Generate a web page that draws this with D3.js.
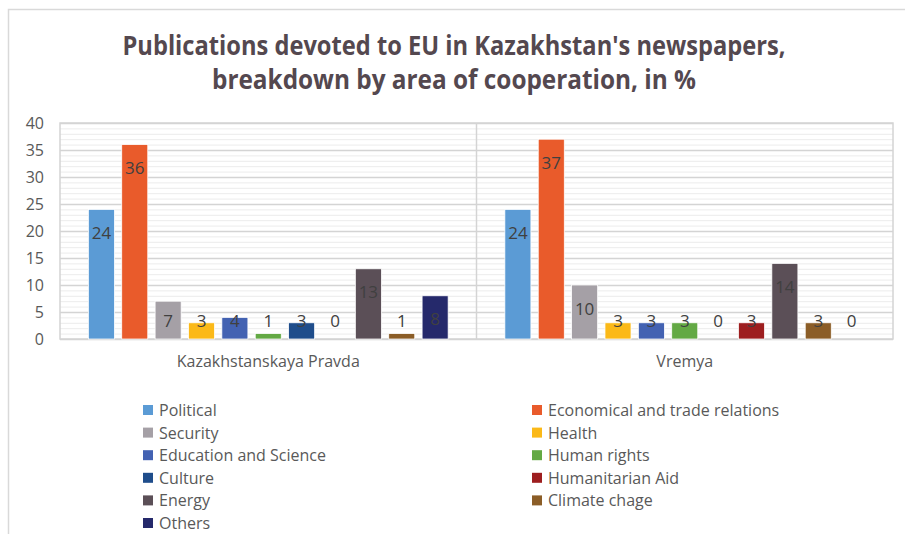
<!DOCTYPE html>
<html>
<head>
<meta charset="utf-8">
<script src="https://cdn.jsdelivr.net/npm/d3@7"></script>
<style>
    body { margin: 0; background: #fff; }
    text { font-family: 'Open Sans', 'Liberation Sans', sans-serif; }
</style>
</head>
<body>
<svg id="chart"></svg>
<script>
const categories = ['Kazakhstanskaya Pravda', 'Vremya'];
const seriesNames = [
    'Political', 'Economical and trade relations', 'Security', 'Health',
    'Education and Science', 'Human rights', 'Culture', 'Humanitarian Aid',
    'Energy', 'Climate chage', 'Others'
];
const pravdaValues = [24, 36, 7, 3, 4, 1, 3, 0, 13, 1, 8];
const vremyaValues = [24, 37, 10, 3, 3, 3, 0, 3, 14, 3, 0];
const seriesColors = [
    '#5b9bd5', '#e95b2b', '#a5a0a6', '#fbb918', '#4362b2', '#63a944',
    '#1f4d8b', '#9d1e1f', '#5b4f57', '#8b5d27', '#25296b'
];
const yTicks = [0, 5, 10, 15, 20, 25, 30, 35, 40];
const titleLines = [
    "Publications devoted to EU in Kazakhstan's newspapers,",
    'breakdown by area of cooperation, in %'
];

const width = 905;
const height = 534;
const plot = { left: 60, right: 893, top: 123, bottom: 339 };

const svg = d3.select('#chart')
    .attr('width', width)
    .attr('height', height);

// outer chart frame (runs off the picture to the right and bottom)
svg.append('rect')
    .attr('x', 8.5)
    .attr('y', 9.5)
    .attr('width', 1000)
    .attr('height', 1000)
    .attr('fill', '#fff')
    .attr('stroke', '#d9d9d9')
    .attr('stroke-width', 1.5);

svg.selectAll('.title')
    .data(titleLines)
    .enter()
    .append('text')
    .attr('class', 'title')
    .attr('x', 454)
    .attr('y', (d, i) => 55 + i * 34)
    .attr('text-anchor', 'middle')
    .attr('textLength', (d, i) => i === 0 ? 663 : 484)
    .attr('lengthAdjust', 'spacingAndGlyphs')
    .attr('fill', '#54484f')
    .style('font-size', '26px')
    .style('font-weight', 'bold')
    .text(d => d);

const yScale = d3.scaleLinear()
    .domain([0, 40])
    .range([plot.bottom, plot.top]);

const x0 = d3.scaleBand()
    .domain(categories)
    .range([plot.left, plot.right]);

const x1 = d3.scaleBand()
    .domain(seriesNames)
    .range([0, x0.bandwidth()])
    .paddingInner(0.22)
    .paddingOuter(0.85);

// minor gridlines
const minorTicks = d3.range(0, 41).filter(v => v % 5 !== 0);
svg.append('g')
    .selectAll('line')
    .data(minorTicks)
    .enter()
    .append('line')
    .attr('x1', plot.left)
    .attr('x2', plot.right)
    .attr('y1', d => yScale(d) + 0.5)
    .attr('y2', d => yScale(d) + 0.5)
    .attr('stroke', '#ececec');

// major gridlines via axis
svg.append('g')
    .attr('class', 'grid')
    .attr('transform', `translate(${plot.left}, 0)`)
    .call(d3.axisRight(yScale)
        .tickValues(yTicks)
        .tickSize(plot.right - plot.left)
        .tickFormat(''))
    .call(g => g.select('.domain').remove())
    .call(g => g.selectAll('line')
        .attr('stroke', '#d4d4d4')
        .attr('stroke-width', 1.5));

// plot area border and category separator
svg.append('rect')
    .attr('x', plot.left)
    .attr('y', plot.top)
    .attr('width', plot.right - plot.left)
    .attr('height', plot.bottom - plot.top)
    .attr('fill', 'none')
    .attr('stroke', '#d4d4d4')
    .attr('stroke-width', 1.5);

svg.append('g')
    .selectAll('line')
    .data(categories.slice(1))
    .enter()
    .append('line')
    .attr('x1', d => x0(d))
    .attr('x2', d => x0(d))
    .attr('y1', plot.top)
    .attr('y2', plot.bottom)
    .attr('stroke', '#d4d4d4')
    .attr('stroke-width', 1.5);

// y axis labels
svg.append('g')
    .attr('transform', `translate(${plot.left}, 0)`)
    .call(d3.axisLeft(yScale).tickValues(yTicks).tickSize(0).tickPadding(16))
    .call(g => g.select('.domain').remove())
    .call(g => g.selectAll('text')
        .attr('fill', '#595959')
        .style('font-size', '16px')
        .style('font-family', "'Open Sans', sans-serif"));

// category labels
svg.append('g')
    .attr('transform', `translate(0, ${plot.bottom})`)
    .call(d3.axisBottom(x0).tickSize(0).tickPadding(17))
    .call(g => g.select('.domain').remove())
    .call(g => g.selectAll('text')
        .attr('fill', '#595959')
        .style('font-size', '16px')
        .style('font-family', "'Open Sans', sans-serif"));

const rows = categories.map((c, i) => ({
    category: c,
    values: seriesNames.map((s, j) => ({
        series: s,
        value: (i === 0 ? pravdaValues : vremyaValues)[j],
        color: seriesColors[j]
    }))
}));

const groups = svg.selectAll('.group')
    .data(rows)
    .enter()
    .append('g')
    .attr('class', 'group')
    .attr('transform', d => `translate(${x0(d.category)}, 0)`);

groups.selectAll('rect')
    .data(d => d.values)
    .enter()
    .append('rect')
    .attr('x', d => x1(d.series))
    .attr('y', d => yScale(d.value))
    .attr('width', x1.bandwidth())
    .attr('height', d => plot.bottom - yScale(d.value))
    .attr('fill', d => d.color)
    .attr('stroke', '#fff')
    .attr('stroke-width', 0.75);

groups.selectAll('.label')
    .data(d => d.values)
    .enter()
    .append('text')
    .attr('class', 'label')
    .attr('x', d => x1(d.series) + x1.bandwidth() / 2)
    .attr('y', d => Math.min(yScale(d.value) + 23, 320))
    .attr('text-anchor', 'middle')
    .attr('dominant-baseline', 'central')
    .attr('fill', '#404040')
    .style('font-size', '17px')
    .text(d => d.value);

// legend, two columns, filled row by row
const legend = svg.append('g')
    .selectAll('g')
    .data(seriesNames)
    .enter()
    .append('g')
    .attr('transform', (d, i) => `translate(${i % 2 === 0 ? 143 : 532}, ${410 + Math.floor(i / 2) * 22.6})`);

legend.append('rect')
    .attr('x', 0)
    .attr('y', -5)
    .attr('width', 10)
    .attr('height', 10)
    .attr('fill', (d, i) => seriesColors[i]);

legend.append('text')
    .attr('x', 16)
    .attr('y', 0)
    .attr('dominant-baseline', 'central')
    .attr('fill', '#595959')
    .style('font-size', '16px')
    .text(d => d);
</script>
</body>
</html>
